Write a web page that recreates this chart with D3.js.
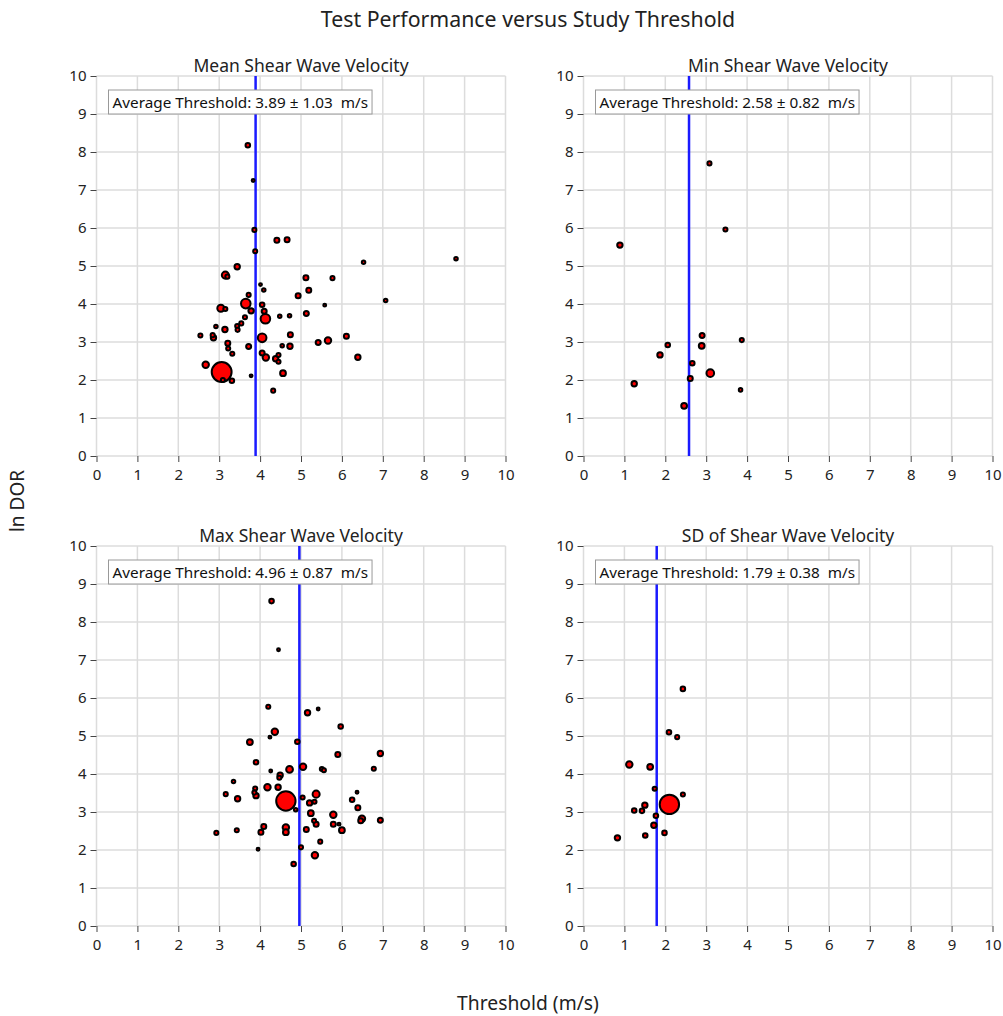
<!DOCTYPE html>
<html><head><meta charset="utf-8">
<script src="https://cdn.jsdelivr.net/npm/d3@7"></script>
<style>
body{margin:0;background:#fff;}
svg{display:block;}
text{font-family:"Noto Sans","Open Sans",sans-serif;}
</style>
</head><body>
<svg id="chart" width="1003" height="1016"></svg>
<script>
// ---------- data ----------
const panelTitles = ["Mean Shear Wave Velocity","Min Shear Wave Velocity","Max Shear Wave Velocity","SD of Shear Wave Velocity"];
const thresholdMean = [3.89, 2.58, 4.96, 1.79];
const thresholdSD = [1.03, 0.82, 0.87, 0.38];
const xTicks = [0,1,2,3,4,5,6,7,8,9,10];
const yTicks = [0,1,2,3,4,5,6,7,8,9,10];

const meanX = [3.86,4.41,4.66,3.88,3.44,3.15,3.20,6.53,5.12,5.77,5.19,4.93,4.01,4.09,3.72,7.07,3.65,4.05,5.58,3.04,3.15,3.78,4.10,4.13,3.63,4.48,4.72,5.13,3.54,3.44,2.92,3.14,3.45,2.54,2.84,2.86,4.05,4.74,3.21,3.22,3.72,4.54,4.73,5.42,5.66,6.11,3.32,4.05,4.14,4.38,4.45,4.45,6.39,2.67,3.06,3.09,3.31,3.78,4.56,4.32,3.70,3.83,8.79];
const meanY = [5.95,5.68,5.69,5.39,4.98,4.76,4.72,5.10,4.69,4.68,4.36,4.22,4.51,4.37,4.24,4.09,4.01,3.98,3.97,3.89,3.87,3.82,3.81,3.61,3.65,3.68,3.69,3.75,3.49,3.42,3.41,3.33,3.32,3.17,3.18,3.11,3.11,3.19,2.97,2.83,2.88,2.90,2.89,2.99,3.04,3.15,2.69,2.71,2.59,2.56,2.66,2.48,2.60,2.40,2.21,2.00,1.98,2.11,2.18,1.72,8.18,7.25,5.19];
const meanW = [4,6,6,4,7,12,4,3,6,4,6,6,2,3,4,3,22,5,2,12,4,7,6,22,4,3,3,6,4,4,3,7,4,4,4,7,18,6,6,4,6,3,7,6,10,6,4,6,10,7,4,4,7,10,95,4,5,2,8,4,5,2,3];

const minX = [3.47,0.89,2.90,3.87,2.06,2.89,1.87,2.66,3.10,2.61,1.24,3.84,2.46,3.08];
const minY = [5.96,5.55,3.17,3.05,2.92,2.90,2.66,2.44,2.18,2.04,1.90,1.74,1.32,7.70];
const minW = [4,7,6,4,5,8,7,5,14,6,7,3,8,4];

const maxX = [4.20,5.16,5.42,5.97,4.36,4.24,4.91,3.75,5.90,6.94,3.90,5.05,4.72,5.51,5.56,6.78,4.26,4.49,4.47,3.35,4.18,4.44,3.88,3.16,3.86,3.90,3.45,4.63,5.37,5.04,5.21,5.33,6.37,6.25,6.39,4.87,5.24,5.79,6.49,6.46,6.94,5.32,5.37,5.79,5.93,6.00,4.09,4.02,4.63,4.63,5.13,3.43,2.93,5.47,3.95,5.00,5.34,4.82,4.28,4.45];
const maxY = [5.77,5.61,5.71,5.25,5.11,4.97,4.85,4.84,4.51,4.54,4.31,4.19,4.12,4.13,4.10,4.14,4.08,3.97,3.90,3.80,3.65,3.65,3.62,3.47,3.51,3.43,3.35,3.29,3.47,3.38,3.24,3.27,3.52,3.32,3.11,3.06,2.97,2.93,2.82,2.77,2.78,2.77,2.68,2.68,2.68,2.52,2.62,2.47,2.59,2.47,2.54,2.52,2.45,2.22,2.02,2.07,1.86,1.63,8.55,7.27];
const maxW = [4,7,2,5,10,2,5,8,6,7,5,10,11,4,4,4,2,7,4,3,10,7,4,4,4,7,7,90,12,4,7,4,2,5,6,3,8,10,10,6,6,4,6,6,2,8,6,6,10,8,6,4,4,4,2,4,10,5,5,2];

const sdX = [2.43,2.09,2.29,1.12,1.63,1.74,2.43,2.10,1.50,1.24,1.43,1.77,1.72,1.98,1.51,0.83];
const sdY = [6.24,5.10,4.97,4.25,4.19,3.61,3.46,3.20,3.18,3.04,3.03,2.90,2.65,2.45,2.38,2.32];
const sdW = [5,5,4,10,8,4,4,90,7,5,5,5,7,5,5,7];

// ---------- layout ----------
const FONT = '"Noto Sans","Open Sans",sans-serif';
const W = 409, H = 380;
const origins = [[96.5,76],[583.5,76],[96.5,546],[583.5,546]];
const series = [[meanX,meanY,meanW],[minX,minY,minW],[maxX,maxY,maxW],[sdX,sdY,sdW]];

const svg = d3.select("#chart");
const x = d3.scaleLinear().domain([0,10]).range([0,W]);
const y = d3.scaleLinear().domain([0,10]).range([H,0]);
const r = d3.scaleSqrt().domain([0,100]).range([0,10.2]);

svg.append("text").attr("x",528).attr("y",27).attr("text-anchor","middle")
  .attr("font-size",21.3).attr("fill","#222").text("Test Performance versus Study Threshold");
svg.append("text").attr("transform","translate(24,501) rotate(-90)").attr("text-anchor","middle")
  .attr("font-size",19).attr("fill","#222").text("ln DOR");
svg.append("text").attr("x",528).attr("y",1010).attr("text-anchor","middle")
  .attr("font-size",19.3).attr("fill","#222").text("Threshold (m/s)");

series.forEach(([xs,ys,ws],i) => {
  const g = svg.append("g").attr("transform",`translate(${origins[i][0]},${origins[i][1]})`);
  // grid
  g.append("g").selectAll("line").data(xTicks).join("line")
    .attr("x1",d=>x(d)).attr("x2",d=>x(d)).attr("y1",0).attr("y2",H)
    .attr("stroke","#dcdcdc").attr("stroke-width",1.5);
  g.append("g").selectAll("line").data(yTicks).join("line")
    .attr("y1",d=>y(d)).attr("y2",d=>y(d)).attr("x1",0).attr("x2",W)
    .attr("stroke","#dcdcdc").attr("stroke-width",1.5);
  // axes
  const xa = g.append("g").attr("transform",`translate(0,${H})`)
    .call(d3.axisBottom(x).tickValues(xTicks).tickSize(6).tickPadding(7).tickFormat(d3.format("d")));
  const ya = g.append("g")
    .call(d3.axisLeft(y).tickValues(yTicks).tickSize(6).tickPadding(4).tickFormat(d3.format("d")));
  [xa,ya].forEach(a => {
    a.select(".domain").remove();
    a.selectAll(".tick line").attr("stroke","#444");
    a.selectAll(".tick text").attr("font-size",15).attr("fill","#222").attr("font-family",FONT);
  });
  // threshold line
  g.append("line").attr("x1",x(thresholdMean[i])).attr("x2",x(thresholdMean[i]))
    .attr("y1",0).attr("y2",H).attr("stroke","#1a1aff").attr("stroke-width",2.5);
  // points
  const pts = xs.map((v,j)=>({x:v,y:ys[j],w:ws[j]})).sort((a,b)=>b.w-a.w);
  g.append("g").selectAll("circle").data(pts).join("circle")
    .attr("cx",d=>x(d.x)).attr("cy",d=>y(d.y)).attr("r",d=>r(d.w))
    .attr("fill","#ff0000").attr("stroke","#000").attr("stroke-width",2);
  // panel title
  g.append("text").attr("x",W/2).attr("y",-4).attr("text-anchor","middle")
    .attr("font-size",17.5).attr("fill","#222").text(panelTitles[i]);
  // annotation box
  const box = g.append("g").attr("transform","translate(12,14)");
  const rect = box.append("rect");
  const t = box.append("text").attr("x",4).attr("y",17.5).attr("font-size",15.3).attr("fill","#111")
    .style("white-space","pre")
    .text(`Average Threshold: ${thresholdMean[i].toFixed(2)} \u00b1 ${thresholdSD[i].toFixed(2)}  m/s`);
  const bb = t.node().getBBox();
  rect.attr("x",0).attr("y",0).attr("width",bb.width+8).attr("height",24)
    .attr("fill","#fff").attr("stroke","#999").attr("stroke-width",1);
});
</script>
</body></html>
